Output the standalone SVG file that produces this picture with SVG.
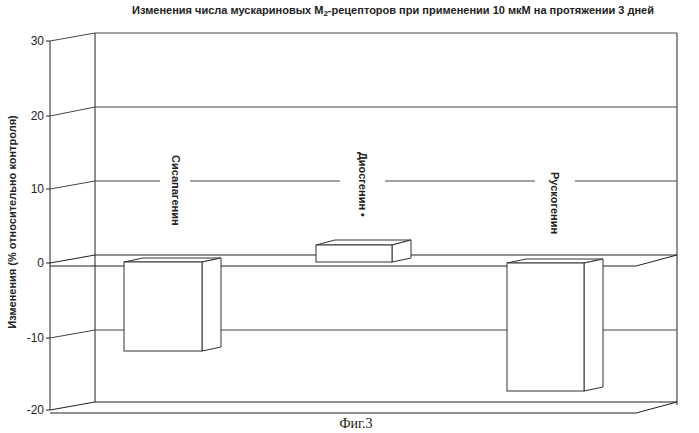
<svg xmlns="http://www.w3.org/2000/svg" width="699" height="433" viewBox="0 0 699 433">
<style>
.l{stroke:#222;stroke-width:1;fill:none}
.g{stroke:#444;stroke-width:1;fill:none}
.b{stroke:#333;stroke-width:1;fill:#fff}
.t{font-family:"Liberation Sans",Arial,sans-serif;font-size:12px;fill:#222}
.lb{font-family:"Liberation Sans",Arial,sans-serif;font-size:11px;font-weight:bold;fill:#222}
</style>
<rect width="699" height="433" fill="#fff"/>
<text x="393" y="14" text-anchor="middle" class="lb" font-size="11.5">Изменения числа мускариновых M<tspan font-size="8" dy="2">2</tspan><tspan dy="-2">-рецепторов при применении 10 мкМ на протяжении 3 дней</tspan></text>
<g id="axes">
<path class="l" d="M95,33V402M677,33V405M50,41V410"/>
<path class="g" d="M50,41L95,33H677M50,116L95,107H677M50,189L95,181H160M190,181H340M385,181H535M575,181H677M50,338L95,330H677"/>
<path class="l" d="M50,263L95,255H677L636,266H50M50,410L95,402H677L636,413H50"/>
<path class="l" d="M46,41H50M46,116H50M46,189H50M46,263H50M46,338H50M46,410H50"/>
<g class="t" text-anchor="end"><text x="44" y="45">30</text><text x="44" y="120">20</text><text x="44" y="193">10</text><text x="44" y="267">0</text><text x="44" y="342">-10</text><text x="44" y="414">-20</text></g>
<text class="lb" transform="translate(16,222) rotate(-90)" text-anchor="middle">Изменения (% относительно контроля)</text>
</g>
<g id="bar1">
<path class="b" d="M124,262L143,258H221L202,262Z"/>
<path class="b" d="M202,262L221,258V347L202,351Z"/>
<rect class="b" x="124" y="262" width="78" height="89"/>
<text class="lb" transform="translate(172,155) rotate(90)">Сисапагенин</text>
</g>
<g id="bar2">
<path class="b" d="M316,245L335,240H411L392,245Z"/>
<path class="b" d="M392,245L411,240V258L392,262Z"/>
<rect class="b" x="316" y="245" width="76" height="17"/>
<text class="lb" transform="translate(359,152) rotate(90)">Диосгенин •</text>
</g>
<g id="bar3">
<path class="b" d="M507,263L526,259H603L584,263Z"/>
<path class="b" d="M584,263L603,259V387L584,391Z"/>
<rect class="b" x="507" y="263" width="77" height="128"/>
<text class="lb" transform="translate(551,172) rotate(90)">Рускогенин</text>
</g>
<text x="356" y="428" text-anchor="middle" font-family="Liberation Serif,serif" font-size="14" fill="#222">Фиг.3</text>
</svg>
